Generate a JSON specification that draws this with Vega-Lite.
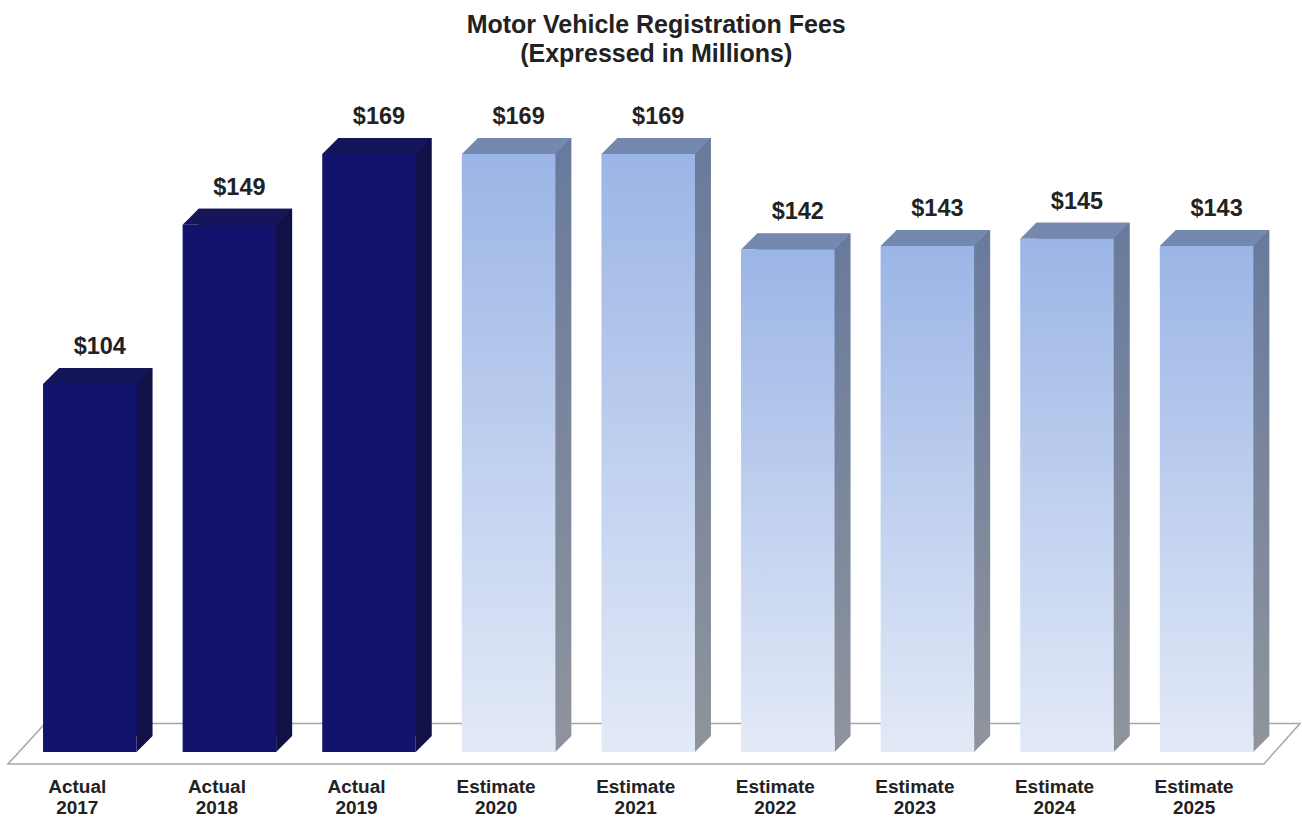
{
  "$schema": "https://vega.github.io/schema/vega-lite/v6.json",
  "autosize": {"type": "none"},
  "width": 1256.4,
  "height": 637,
  "padding": {"left": 20, "top": 115, "right": 25, "bottom": 68},
  "background": "white",
  "title": {
    "text": ["Motor Vehicle Registration Fees", "(Expressed in Millions)"],
    "font": "Liberation Sans",
    "fontSize": 25,
    "fontWeight": "bold",
    "color": "#222222",
    "lineHeight": 29,
    "anchor": "middle",
    "dx": 8,
    "offset": 38
  },
  "data": {
    "values": [
      {"label": "Actual 2017", "value": 104, "type": "Actual"},
      {"label": "Actual 2018", "value": 149, "type": "Actual"},
      {"label": "Actual 2019", "value": 169, "type": "Actual"},
      {"label": "Estimate 2020", "value": 169, "type": "Estimate"},
      {"label": "Estimate 2021", "value": 169, "type": "Estimate"},
      {"label": "Estimate 2022", "value": 142, "type": "Estimate"},
      {"label": "Estimate 2023", "value": 143, "type": "Estimate"},
      {"label": "Estimate 2024", "value": 145, "type": "Estimate"},
      {"label": "Estimate 2025", "value": 143, "type": "Estimate"}
    ]
  },
  "encoding": {
    "x": {
      "field": "label",
      "type": "nominal",
      "sort": null,
      "scale": {
        "domain": ["Actual 2017", "Actual 2018", "Actual 2019", "Estimate 2020", "Estimate 2021", "Estimate 2022", "Estimate 2023", "Estimate 2024", "Estimate 2025"],
        "paddingInner": 0.33,
        "paddingOuter": 0.165
      },
      "axis": {
        "title": null,
        "labelExpr": "split(datum.label, ' ')",
        "labelAngle": 0,
        "labelFont": "Liberation Sans",
        "labelFontSize": 19,
        "labelFontWeight": "bold",
        "labelColor": "#222222",
        "labelLineHeight": 21,
        "labelPadding": 26,
        "labelOffset": -12.5,
        "ticks": false,
        "tickSize": 0,
        "domain": false,
        "grid": false
      }
    },
    "y": {
      "field": "value",
      "type": "quantitative",
      "scale": {"domain": [0, 180], "nice": false, "zero": true},
      "axis": null
    }
  },
  "layer": [
    {
      "transform": [{"filter": "datum.label == 'Estimate 2021'"}],
      "mark": {
        "type": "point",
        "shape": "M -640.2 12 L -603.2 -28.5 L 651.8 -28.5 L 615.8 12 Z",
        "size": 4,
        "filled": true,
        "color": "#ffffff",
        "stroke": "#a6a6a6",
        "strokeWidth": 1.5,
        "opacity": 1
      },
      "encoding": {
        "y": {"datum": 0, "type": "quantitative"}
      }
    },
    {
      "transform": [{"filter": "datum.type == 'Actual'"}],
      "mark": {"type": "bar", "xOffset": 16, "yOffset": -16, "color": "#111148"}
    },
    {
      "transform": [{"filter": "datum.type == 'Estimate'"}],
      "mark": {
        "type": "bar",
        "xOffset": 16,
        "yOffset": -16,
        "color": {
          "gradient": "linear", "x1": 0, "y1": 0, "x2": 0, "y2": 1,
          "stops": [{"offset": 0, "color": "#687a9c"}, {"offset": 1, "color": "#8e939c"}]
        }
      }
    },
    {
      "transform": [{"filter": "datum.type == 'Actual'"}],
      "mark": {
        "type": "point",
        "shape": "M 46.75 -16 L 62.75 -16 L 46.75 0 Z",
        "size": 4,
        "filled": true,
        "color": "#111148",
        "opacity": 1,
        "strokeWidth": 0
      },
      "encoding": {"y": {"datum": 0, "type": "quantitative"}}
    },
    {
      "transform": [{"filter": "datum.type == 'Estimate'"}],
      "mark": {
        "type": "point",
        "shape": "M 46.75 -16 L 62.75 -16 L 46.75 0 Z",
        "size": 4,
        "filled": true,
        "color": "#8e939c",
        "opacity": 1,
        "strokeWidth": 0
      },
      "encoding": {"y": {"datum": 0, "type": "quantitative"}}
    },
    {
      "transform": [{"filter": "datum.type == 'Actual'"}],
      "mark": {
        "type": "point",
        "shape": "M -46.75 0 L -30.75 -16 L 62.75 -16 L 46.75 0 Z",
        "size": 4,
        "filled": true,
        "color": "#15155a",
        "opacity": 1,
        "strokeWidth": 0
      }
    },
    {
      "transform": [{"filter": "datum.type == 'Estimate'"}],
      "mark": {
        "type": "point",
        "shape": "M -46.75 0 L -30.75 -16 L 62.75 -16 L 46.75 0 Z",
        "size": 4,
        "filled": true,
        "color": "#7489b0",
        "opacity": 1,
        "strokeWidth": 0
      }
    },
    {
      "transform": [{"filter": "datum.type == 'Actual'"}],
      "mark": {"type": "bar", "color": "#13136e"}
    },
    {
      "transform": [{"filter": "datum.type == 'Estimate'"}],
      "mark": {
        "type": "bar",
        "color": {
          "gradient": "linear", "x1": 0, "y1": 0, "x2": 0, "y2": 1,
          "stops": [{"offset": 0, "color": "#9bb5e6"}, {"offset": 1, "color": "#e3eaf7"}]
        }
      }
    },
    {
      "mark": {
        "type": "text",
        "font": "Liberation Sans",
        "fontSize": 23.5,
        "fontWeight": "bold",
        "color": "#222222",
        "dx": 10,
        "dy": -30,
        "baseline": "alphabetic"
      },
      "encoding": {"text": {"field": "value", "type": "quantitative", "format": "$.0f"}}
    }
  ],
  "config": {"view": {"stroke": null}}
}
